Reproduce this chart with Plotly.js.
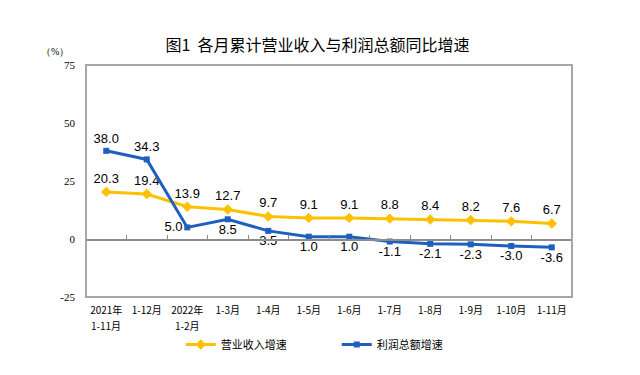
<!DOCTYPE html>
<html><head><meta charset="utf-8">
<script src="https://cdn.plot.ly/plotly-3.0.1.min.js"></script>
<style>body{margin:0;background:#fff}#c{width:640px;height:375px}</style>
</head><body><div id="c"></div>
<script>
const categories = ["2021年<br>1-11月","1-12月","2022年<br>1-2月","1-3月","1-4月","1-5月","1-6月","1-7月","1-8月","1-9月","1-10月","1-11月"];
const revenueGrowth = [20.3,19.4,13.9,12.7,9.7,9.1,9.1,8.8,8.4,8.2,7.6,6.7];
const profitGrowth = [38.0,34.3,5.0,8.5,3.5,1.0,1.0,-1.1,-2.1,-2.3,-3.0,-3.6];
const profitLabelPos = ["top center","top center","middle left","bottom center","bottom center","bottom center","bottom center","bottom center","bottom center","bottom center","bottom center","bottom center"];
const yTicks = [-25,0,25,50,75];
const yTickText = ["-25","0","25","50","75"];

const idx = categories.map((_, i) => i);
const firstLines = categories.map(c => c.split("<br>")[0]);
const secondLines = categories.map(c => c.split("<br>")[1] || "");
const labelFont = {family: "Liberation Sans, Arial", size: 13, color: "#000"};
const catFont = {family: "Noto Sans CJK SC", size: 10, color: "#000"};

const traces = [
  {x: idx, y: revenueGrowth, name: "营业收入增速", type: "scatter", mode: "lines+markers+text",
   line: {color: "#FFC000", width: 3}, marker: {symbol: "diamond", size: 8, color: "#FFC000"},
   text: revenueGrowth.map(v => v.toFixed(1)), textposition: "top center", textfont: labelFont,
   cliponaxis: false, hoverinfo: "skip"},
  {x: idx, y: profitGrowth, name: "利润总额增速", type: "scatter", mode: "lines+markers+text",
   line: {color: "#1F5FBF", width: 3}, marker: {symbol: "square", size: 6, color: "#1F5FBF"},
   text: profitGrowth.map(v => v.toFixed(1)), textposition: profitLabelPos, textfont: labelFont,
   cliponaxis: false, hoverinfo: "skip"},
  {x: idx, y: profitGrowth.map(() => null), xaxis: "x2", yaxis: "y", showlegend: false, hoverinfo: "skip", type: "scatter", mode: "lines"}
];

const annotations = [{text: "（%）", xref: "paper", yref: "paper", x: -0.064, y: 1.058, xanchor: "center", yanchor: "middle",
                 showarrow: false, font: {family: "Liberation Serif", size: 10, color: "#000"}}];
secondLines.forEach((t, i) => {
  if (t) annotations.push({text: t, xref: "x", yref: "paper", x: i, y: -0.123, xanchor: "center", yanchor: "middle",
                           showarrow: false, font: catFont});
});

const layout = {
  width: 640, height: 375,
  margin: {l: 86, r: 68, t: 65, b: 78},
  paper_bgcolor: "#fff", plot_bgcolor: "#fff",
  title: {text: "图1  各月累计营业收入与利润总额同比增速", x: 0.496, xanchor: "center", y: 0.88, yanchor: "middle",
          font: {family: "Noto Sans CJK SC", size: 16, color: "#000"}},
  xaxis: {range: [-0.5, 11.5], tickvals: idx, ticktext: firstLines, showgrid: false, zeroline: false,
          showline: false, ticks: "", ticklabelstandoff: 6, tickfont: catFont, fixedrange: true},
  xaxis2: {range: [-0.5, 11.5], overlaying: "x", anchor: "free", position: 0.25, showline: true,
           linecolor: "#8C8C8C", linewidth: 1.5, tickmode: "array", tickvals: idx.map(i => i + 0.5),
           ticks: "inside", ticklen: 4, tickcolor: "#8C8C8C", tickwidth: 1, showticklabels: false,
           showgrid: false, zeroline: false},
  yaxis: {range: [-25, 75], tickvals: yTicks, ticktext: yTickText, showgrid: false, zeroline: false,
          showline: false, ticks: "", ticklabelstandoff: 10,
          tickfont: {family: "Liberation Serif, Times New Roman", size: 11, color: "#000"}},
  shapes: [{type: "rect", xref: "paper", yref: "paper", x0: 0, x1: 1, y0: 0, y1: 1,
            line: {color: "#A6A6A6", width: 2}}],
  annotations: annotations,
  legend: {orientation: "h", x: 0.195, xanchor: "left", y: -0.205, yanchor: "middle", entrywidth: 111, entrywidthmode: "pixels",
           font: {family: "Noto Sans CJK SC", size: 11, color: "#000"}, bgcolor: "rgba(0,0,0,0)"},
  showlegend: true
};
Plotly.newPlot("c", traces, layout, {displayModeBar: false, staticPlot: true});
</script></body></html>
